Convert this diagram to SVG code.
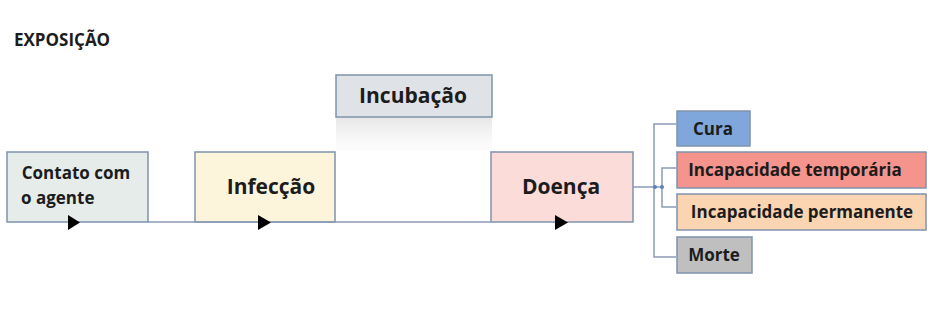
<svg xmlns="http://www.w3.org/2000/svg" width="932" height="335" viewBox="0 0 932 335">
<defs>
<style>
.box{stroke:#7f93ad;stroke-width:1.5}
.t{font-family:"Open Sans","Liberation Sans",sans-serif;font-weight:bold;fill:#1c1c1c}
.big{font-size:21px}
.sm{font-size:17px}
.ln{stroke:#8a9bb5;stroke-width:1.5;fill:none}
.dot{fill:#5b7fc0}
.arr{fill:#000}
</style>
<linearGradient id="refl" x1="0" y1="0" x2="0" y2="1">
<stop offset="0" stop-color="#e6e6e6"/>
<stop offset="1" stop-color="#f7f7f7" stop-opacity="0.3"/>
</linearGradient>
</defs>
<rect width="932" height="335" fill="#ffffff"/>
<text class="t" x="14" y="46" font-size="17">EXPOSIÇÃO</text>

<g id="contato">
<rect class="box" x="7" y="152" width="141" height="70" fill="#e5ece9"/>
<text class="t sm" x="76" y="179" text-anchor="middle">Contato com</text>
<text class="t sm" x="21" y="204">o agente</text>
</g>
<g id="infeccao">
<rect class="box" x="195" y="152" width="140" height="70" fill="#fdf4dc"/>
<text class="t big" x="271" y="194" text-anchor="middle">Infecção</text>
</g>
<g id="incubacao">
<rect x="336" y="117" width="156" height="34" fill="url(#refl)"/>
<rect class="box" x="336" y="75" width="156" height="42" fill="#dfe2e6"/>
<text class="t big" x="413" y="103" text-anchor="middle">Incubação</text>
</g>
<g id="doenca">
<rect class="box" x="491" y="152" width="142" height="70" fill="#fbdcd9"/>
<text class="t big" x="561" y="194" text-anchor="middle">Doença</text>
</g>
<g id="cura">
<rect class="box" x="677" y="111" width="73" height="35" fill="#80a7db" stroke="#4f6f9f"/>
<text class="t sm" x="713" y="135" text-anchor="middle">Cura</text>
</g>
<g id="temporaria">
<rect class="box" x="677" y="152" width="249" height="36" fill="#f5938d" stroke="#8a5c5c"/>
<text class="t sm" x="795" y="176" text-anchor="middle">Incapacidade temporária</text>
</g>
<g id="permanente">
<rect class="box" x="677" y="194" width="249" height="36" fill="#fbd4b2" stroke="#8c8070"/>
<text class="t sm" x="802" y="218" text-anchor="middle">Incapacidade permanente</text>
</g>
<g id="morte">
<rect class="box" x="677" y="237" width="75" height="36" fill="#bfbfbf" stroke="#6e6e6e"/>
<text class="t sm" x="714" y="261" text-anchor="middle">Morte</text>
</g>

<g id="connectors">
<line class="ln" x1="148" y1="222" x2="491" y2="222"/>
<path class="arr" d="M68,215 L80,222.5 L68,230 Z"/>
<path class="arr" d="M258,215 L271,222.5 L258,230 Z"/>
<path class="arr" d="M555,215 L568,222.5 L555,230 Z"/>
<line class="ln" x1="633" y1="187" x2="662" y2="187"/>
<path class="ln" d="M676,124 H654 V257 H676"/>
<path class="ln" d="M676,168 H662 V207 H676"/>
<circle class="dot" cx="655" cy="187" r="2"/>
<circle class="dot" cx="662" cy="187" r="2"/>
</g>
</svg>
